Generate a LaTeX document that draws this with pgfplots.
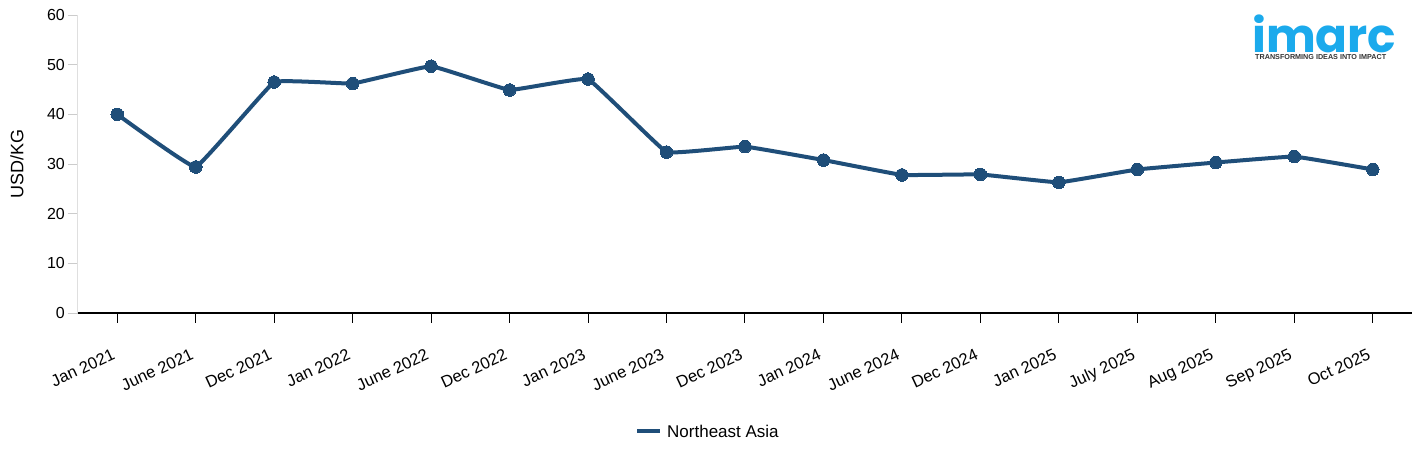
\documentclass[border=0pt]{standalone}
\usepackage{pgfplots}
\pgfplotsset{compat=1.18}
\usepackage{fontspec}
\setmainfont{Liberation Sans}
\newfontfamily\logofont{Poppins}
\definecolor{linec}{RGB}{31,78,121}
\definecolor{logoc}{RGB}{27,170,236}
\begin{document}
\begin{tikzpicture}[x=1pt,y=1pt]
\useasboundingbox (0,0) rectangle (1425,455);
\begin{axis}[
  at={(78pt,142pt)}, anchor=south west,
  scale only axis, width=1334pt, height=298pt,
  xmin=-0.5, xmax=16.5, ymin=0, ymax=60,
  axis lines*=left,
  xtick={0,...,16},
  xticklabels={Jan 2021,June 2021,Dec 2021,Jan 2022,June 2022,Dec 2022,Jan 2023,June 2023,Dec 2023,Jan 2024,June 2024,Dec 2024,Jan 2025,July 2025,Aug 2025,Sep 2025,Oct 2025},
  ytick={0,10,...,60},
  tick align=outside,
  major tick length=10pt,
  x axis line style={black, line width=1.2pt, -},
  y axis line style={gray!25, line width=1pt, -},
  xtick style={black, line width=1pt},
  ytick style={gray!40, line width=0.8pt},
  xticklabel style={rotate=25, anchor=north east, font=\fontsize{16.5}{19}\selectfont, inner sep=2pt, yshift=-18pt, xshift=-14pt},
  yticklabel style={font=\fontsize{16}{19}\selectfont, inner sep=3pt},
  /pgf/number format/assume math mode=true,
  ylabel={USD/KG},
  every axis y label/.style={at={(-61pt,149pt)}, rotate=90, anchor=center, font=\fontsize{18}{21}\selectfont},
  clip=false,
]
\addplot[linec, line width=4pt, smooth, tension=0.12, mark=*, mark size=6.3pt, mark options={solid, fill=linec, draw=linec, line width=0pt}]
coordinates {
(0,40.0) (1,29.4) (2,46.5) (3,46.2) (4,49.7) (5,44.9) (6,47.1) (7,32.4) (8,33.5) (9,30.8) (10,27.8) (11,27.9) (12,26.3) (13,28.9) (14,30.3) (15,31.5) (16,28.9)
};
\end{axis}
% legend
\draw[linec, line width=4pt] (637,24) -- (660,24);
\node[anchor=west, font=\fontsize{17}{20}\selectfont, inner sep=0pt] at (667,24) {Northeast Asia};
% logo
\node[anchor=south west, inner sep=0pt, text=logoc, font=\logofont\bfseries\fontsize{47}{47}\selectfont] at (1252,402) {imarc};
\node[anchor=west, inner sep=0pt, font=\bfseries\fontsize{7.2}{8}\selectfont, text=black!80] at (1255,398) {TRANSFORMING IDEAS INTO IMPACT};
\end{tikzpicture}
\end{document}
